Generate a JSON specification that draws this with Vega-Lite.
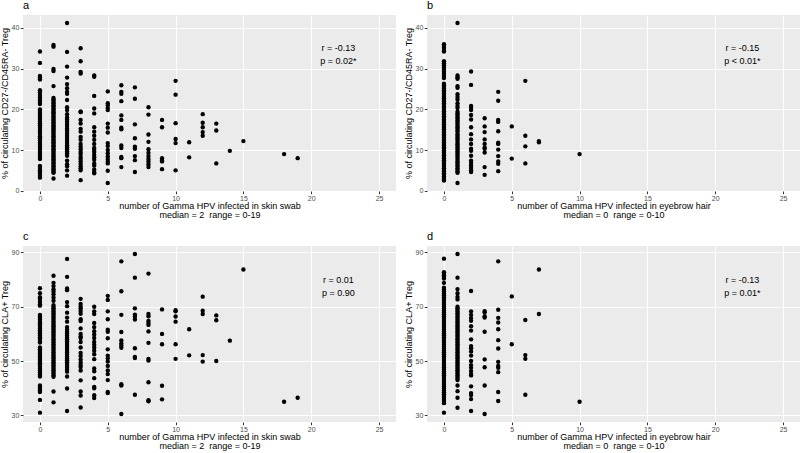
{
"$schema":"https://vega.github.io/schema/vega-lite/v6.json",
"padding":0,
"config":{"font":"Liberation Sans","view":{"fill":"#EBEBEB","stroke":null},
"axis":{"domain":false,"tickColor":"#333333","tickSize":2.7,"tickWidth":1,"labelColor":"#4D4D4D","labelFontSize":7,"labelPadding":1.5,"labelOverlap":false,"labelBound":false,"titleFontSize":9,"titleFontWeight":"normal","titleColor":"#000000","titlePadding":2,"titleLineHeight":10,"gridColor":"#FFFFFF"},
"axisX":{"labelPadding":0.5,"titlePadding":0,"titleLineHeight":9.5},
"title":{"anchor":"start","frame":"group","fontSize":11,"fontWeight":"normal","offset":4,"color":"#000000"}},
"datasets":{
"a":[
{"n":0,"v":34.2},{"n":0,"v":31.4},{"n":0,"v":28.2},{"n":0,"v":27.8},{"n":0,"v":27.3},{"n":0,"v":24.7},{"n":0,"v":24.1},{"n":0,"v":23.5},{"n":0,"v":22.9},{"n":0,"v":22.3},{"n":0,"v":21.8},{"n":0,"v":21.3},{"n":0,"v":20.0},{"n":0,"v":19.6},{"n":0,"v":19.1},{"n":0,"v":18.6},{"n":0,"v":18.1},{"n":0,"v":17.6},{"n":0,"v":17.1},{"n":0,"v":16.6},{"n":0,"v":16.1},{"n":0,"v":15.5},{"n":0,"v":15.0},{"n":0,"v":14.5},{"n":0,"v":14.0},{"n":0,"v":13.4},{"n":0,"v":12.9},{"n":0,"v":12.3},{"n":0,"v":11.8},{"n":0,"v":11.3},{"n":0,"v":10.8},{"n":0,"v":10.3},{"n":0,"v":9.8},{"n":0,"v":9.3},{"n":0,"v":8.8},{"n":0,"v":8.3},{"n":0,"v":7.8},{"n":0,"v":6.1},{"n":0,"v":5.6},{"n":0,"v":5.0},{"n":0,"v":4.6},{"n":0,"v":4.1},{"n":0,"v":3.6},{"n":0,"v":3.2},
{"n":1,"v":35.8},{"n":1,"v":35.4},{"n":1,"v":29.9},{"n":1,"v":29.4},{"n":1,"v":25.7},{"n":1,"v":22.8},{"n":1,"v":22.4},{"n":1,"v":22.1},{"n":1,"v":21.7},{"n":1,"v":21.4},{"n":1,"v":21.0},{"n":1,"v":20.7},{"n":1,"v":20.3},{"n":1,"v":20.0},{"n":1,"v":19.6},{"n":1,"v":19.3},{"n":1,"v":18.9},{"n":1,"v":18.6},{"n":1,"v":18.2},{"n":1,"v":17.9},{"n":1,"v":17.5},{"n":1,"v":17.2},{"n":1,"v":16.8},{"n":1,"v":16.5},{"n":1,"v":16.1},{"n":1,"v":15.8},{"n":1,"v":15.4},{"n":1,"v":15.1},{"n":1,"v":14.7},{"n":1,"v":14.4},{"n":1,"v":14.0},{"n":1,"v":13.7},{"n":1,"v":13.3},{"n":1,"v":13.0},{"n":1,"v":12.6},{"n":1,"v":12.3},{"n":1,"v":11.9},{"n":1,"v":11.6},{"n":1,"v":11.2},{"n":1,"v":10.9},{"n":1,"v":10.5},{"n":1,"v":10.2},{"n":1,"v":9.8},{"n":1,"v":9.5},{"n":1,"v":9.1},{"n":1,"v":8.8},{"n":1,"v":8.4},{"n":1,"v":8.1},{"n":1,"v":7.7},{"n":1,"v":7.4},{"n":1,"v":7.0},{"n":1,"v":6.7},{"n":1,"v":6.3},{"n":1,"v":6.0},{"n":1,"v":5.6},{"n":1,"v":5.3},{"n":1,"v":4.9},{"n":1,"v":4.6},{"n":1,"v":4.4},{"n":1,"v":3.0},
{"n":2,"v":41.2},{"n":2,"v":34.1},{"n":2,"v":30.5},{"n":2,"v":27.8},{"n":2,"v":26.2},{"n":2,"v":25.2},{"n":2,"v":24.3},{"n":2,"v":23.8},{"n":2,"v":22.3},{"n":2,"v":20.5},{"n":2,"v":19.8},{"n":2,"v":18.8},{"n":2,"v":18.0},{"n":2,"v":17.5},{"n":2,"v":17.0},{"n":2,"v":16.4},{"n":2,"v":15.9},{"n":2,"v":15.3},{"n":2,"v":14.8},{"n":2,"v":14.2},{"n":2,"v":13.7},{"n":2,"v":13.2},{"n":2,"v":12.7},{"n":2,"v":12.2},{"n":2,"v":11.7},{"n":2,"v":11.2},{"n":2,"v":10.7},{"n":2,"v":10.2},{"n":2,"v":9.7},{"n":2,"v":9.2},{"n":2,"v":8.6},{"n":2,"v":7.4},{"n":2,"v":6.5},{"n":2,"v":6.0},{"n":2,"v":5.0},{"n":2,"v":3.7},
{"n":3,"v":35.0},{"n":3,"v":31.8},{"n":3,"v":29.2},{"n":3,"v":28.8},{"n":3,"v":19.5},{"n":3,"v":19.3},{"n":3,"v":17.4},{"n":3,"v":16.5},{"n":3,"v":15.2},{"n":3,"v":14.5},{"n":3,"v":13.2},{"n":3,"v":12.5},{"n":3,"v":11.5},{"n":3,"v":10.8},{"n":3,"v":10.2},{"n":3,"v":9.5},{"n":3,"v":9.0},{"n":3,"v":8.3},{"n":3,"v":7.8},{"n":3,"v":7.2},{"n":3,"v":6.6},{"n":3,"v":6.0},{"n":3,"v":5.5},{"n":3,"v":5.0},{"n":3,"v":2.6},
{"n":4,"v":28.3},{"n":4,"v":28.0},{"n":4,"v":23.3},{"n":4,"v":20.2},{"n":4,"v":19.0},{"n":4,"v":15.6},{"n":4,"v":14.5},{"n":4,"v":13.5},{"n":4,"v":12.5},{"n":4,"v":11.5},{"n":4,"v":10.5},{"n":4,"v":10.0},{"n":4,"v":9.5},{"n":4,"v":8.8},{"n":4,"v":8.2},{"n":4,"v":7.6},{"n":4,"v":6.7},{"n":4,"v":6.2},{"n":4,"v":5.2},{"n":4,"v":4.6},{"n":4,"v":4.3},
{"n":5,"v":24.4},{"n":5,"v":21.5},{"n":5,"v":21.0},{"n":5,"v":20.3},{"n":5,"v":19.8},{"n":5,"v":16.5},{"n":5,"v":15.5},{"n":5,"v":14.3},{"n":5,"v":11.7},{"n":5,"v":11.0},{"n":5,"v":10.0},{"n":5,"v":9.2},{"n":5,"v":8.4},{"n":5,"v":7.8},{"n":5,"v":7.2},{"n":5,"v":6.7},{"n":5,"v":4.9},{"n":5,"v":1.9},
{"n":6,"v":25.9},{"n":6,"v":24.3},{"n":6,"v":23.8},{"n":6,"v":22.0},{"n":6,"v":18.5},{"n":6,"v":17.4},{"n":6,"v":15.5},{"n":6,"v":15.1},{"n":6,"v":11.1},{"n":6,"v":10.5},{"n":6,"v":8.3},{"n":6,"v":8.0},{"n":6,"v":5.8},
{"n":7,"v":25.4},{"n":7,"v":22.6},{"n":7,"v":16.3},{"n":7,"v":12.9},{"n":7,"v":10.8},{"n":7,"v":10.3},{"n":7,"v":8.5},{"n":7,"v":7.5},{"n":7,"v":4.6},
{"n":8,"v":20.5},{"n":8,"v":18.7},{"n":8,"v":13.8},{"n":8,"v":12.0},{"n":8,"v":10.2},{"n":8,"v":9.3},{"n":8,"v":8.5},{"n":8,"v":7.8},{"n":8,"v":7.2},{"n":8,"v":6.5},{"n":8,"v":5.8},
{"n":9,"v":17.4},{"n":9,"v":15.6},{"n":9,"v":8.0},{"n":9,"v":7.4},{"n":9,"v":7.2},{"n":9,"v":5.3},
{"n":10,"v":27.0},{"n":10,"v":23.6},{"n":10,"v":16.6},{"n":10,"v":12.7},{"n":10,"v":11.7},{"n":10,"v":5.0},
{"n":11,"v":11.9},{"n":11,"v":8.2},
{"n":12,"v":18.8},{"n":12,"v":16.7},{"n":12,"v":15.6},{"n":12,"v":14.4},{"n":12,"v":13.5},
{"n":13,"v":16.5},{"n":13,"v":14.8},{"n":13,"v":6.7},
{"n":14,"v":9.8},{"n":15,"v":12.2},{"n":18,"v":9.0},{"n":19,"v":8.0}],
"b":[
{"n":0,"v":36.0},{"n":0,"v":35.6},{"n":0,"v":35.1},{"n":0,"v":34.6},{"n":0,"v":34.2},{"n":0,"v":31.8},{"n":0,"v":31.3},{"n":0,"v":30.8},{"n":0,"v":30.2},{"n":0,"v":29.7},{"n":0,"v":29.2},{"n":0,"v":28.7},{"n":0,"v":28.2},{"n":0,"v":27.7},{"n":0,"v":26.3},{"n":0,"v":25.9},{"n":0,"v":25.5},{"n":0,"v":25.1},{"n":0,"v":24.7},{"n":0,"v":24.3},{"n":0,"v":23.9},{"n":0,"v":23.5},{"n":0,"v":23.1},{"n":0,"v":22.7},{"n":0,"v":22.3},{"n":0,"v":21.9},{"n":0,"v":21.5},{"n":0,"v":21.1},{"n":0,"v":20.7},{"n":0,"v":20.3},{"n":0,"v":19.9},{"n":0,"v":19.5},{"n":0,"v":19.1},{"n":0,"v":18.7},{"n":0,"v":18.3},{"n":0,"v":17.9},{"n":0,"v":17.5},{"n":0,"v":17.1},{"n":0,"v":16.7},{"n":0,"v":16.3},{"n":0,"v":15.9},{"n":0,"v":15.5},{"n":0,"v":15.1},{"n":0,"v":14.7},{"n":0,"v":14.3},{"n":0,"v":13.9},{"n":0,"v":13.5},{"n":0,"v":13.1},{"n":0,"v":12.7},{"n":0,"v":12.3},{"n":0,"v":11.9},{"n":0,"v":11.5},{"n":0,"v":11.1},{"n":0,"v":10.7},{"n":0,"v":10.3},{"n":0,"v":9.9},{"n":0,"v":9.5},{"n":0,"v":9.1},{"n":0,"v":8.7},{"n":0,"v":8.3},{"n":0,"v":7.9},{"n":0,"v":7.5},{"n":0,"v":7.1},{"n":0,"v":6.7},{"n":0,"v":6.3},{"n":0,"v":5.9},{"n":0,"v":5.5},{"n":0,"v":5.1},{"n":0,"v":4.7},{"n":0,"v":4.3},{"n":0,"v":3.9},{"n":0,"v":3.5},{"n":0,"v":3.1},{"n":0,"v":2.7},{"n":0,"v":2.5},
{"n":1,"v":41.2},{"n":1,"v":28.3},{"n":1,"v":27.9},{"n":1,"v":27.5},{"n":1,"v":25.7},{"n":1,"v":25.3},{"n":1,"v":23.7},{"n":1,"v":23.0},{"n":1,"v":22.4},{"n":1,"v":21.5},{"n":1,"v":20.8},{"n":1,"v":20.3},{"n":1,"v":19.4},{"n":1,"v":19.0},{"n":1,"v":18.6},{"n":1,"v":18.2},{"n":1,"v":17.8},{"n":1,"v":17.3},{"n":1,"v":16.9},{"n":1,"v":16.5},{"n":1,"v":16.0},{"n":1,"v":15.6},{"n":1,"v":15.2},{"n":1,"v":14.8},{"n":1,"v":14.4},{"n":1,"v":13.9},{"n":1,"v":13.5},{"n":1,"v":13.1},{"n":1,"v":12.7},{"n":1,"v":12.3},{"n":1,"v":11.8},{"n":1,"v":11.4},{"n":1,"v":11.0},{"n":1,"v":10.6},{"n":1,"v":10.2},{"n":1,"v":9.7},{"n":1,"v":9.3},{"n":1,"v":8.9},{"n":1,"v":8.5},{"n":1,"v":8.1},{"n":1,"v":7.6},{"n":1,"v":7.2},{"n":1,"v":6.8},{"n":1,"v":6.4},{"n":1,"v":6.0},{"n":1,"v":5.5},{"n":1,"v":5.1},{"n":1,"v":4.7},{"n":1,"v":4.4},{"n":1,"v":1.9},
{"n":2,"v":29.3},{"n":2,"v":26.0},{"n":2,"v":20.8},{"n":2,"v":20.4},{"n":2,"v":19.8},{"n":2,"v":18.6},{"n":2,"v":17.5},{"n":2,"v":15.6},{"n":2,"v":13.9},{"n":2,"v":12.6},{"n":2,"v":11.5},{"n":2,"v":10.3},{"n":2,"v":9.8},{"n":2,"v":8.6},{"n":2,"v":7.4},{"n":2,"v":6.8},{"n":2,"v":6.2},{"n":2,"v":5.6},{"n":2,"v":5.0},{"n":2,"v":4.6},
{"n":3,"v":17.8},{"n":3,"v":15.8},{"n":3,"v":14.4},{"n":3,"v":12.6},{"n":3,"v":11.5},{"n":3,"v":10.6},{"n":3,"v":10.3},{"n":3,"v":9.4},{"n":3,"v":5.8},{"n":3,"v":3.9},
{"n":4,"v":24.3},{"n":4,"v":22.1},{"n":4,"v":17.4},{"n":4,"v":16.9},{"n":4,"v":14.6},{"n":4,"v":11.8},{"n":4,"v":11.5},{"n":4,"v":10.1},{"n":4,"v":8.5},{"n":4,"v":7.2},{"n":4,"v":6.6},{"n":4,"v":4.8},
{"n":5,"v":15.8},{"n":5,"v":7.9},
{"n":6,"v":27.0},{"n":6,"v":13.5},{"n":6,"v":10.9},{"n":6,"v":6.7},
{"n":7,"v":12.2},{"n":7,"v":11.9},
{"n":10,"v":9.0}],
"c":[
{"n":0,"v":76.8},{"n":0,"v":75.0},{"n":0,"v":73.5},{"n":0,"v":72.8},{"n":0,"v":71.8},{"n":0,"v":70.9},{"n":0,"v":70.4},{"n":0,"v":67.0},{"n":0,"v":66.4},{"n":0,"v":65.8},{"n":0,"v":65.2},{"n":0,"v":64.5},{"n":0,"v":63.9},{"n":0,"v":63.3},{"n":0,"v":62.6},{"n":0,"v":62.0},{"n":0,"v":61.3},{"n":0,"v":60.7},{"n":0,"v":60.1},{"n":0,"v":59.4},{"n":0,"v":58.8},{"n":0,"v":58.2},{"n":0,"v":57.5},{"n":0,"v":56.8},{"n":0,"v":55.0},{"n":0,"v":54.3},{"n":0,"v":53.7},{"n":0,"v":53.0},{"n":0,"v":52.4},{"n":0,"v":51.7},{"n":0,"v":51.1},{"n":0,"v":50.5},{"n":0,"v":49.8},{"n":0,"v":49.2},{"n":0,"v":48.6},{"n":0,"v":47.9},{"n":0,"v":47.2},{"n":0,"v":46.5},{"n":0,"v":45.8},{"n":0,"v":45.0},{"n":0,"v":44.3},{"n":0,"v":41.0},{"n":0,"v":40.4},{"n":0,"v":39.8},{"n":0,"v":39.2},{"n":0,"v":38.6},{"n":0,"v":35.7},{"n":0,"v":31.0},
{"n":1,"v":81.4},{"n":1,"v":78.8},{"n":1,"v":77.6},{"n":1,"v":76.4},{"n":1,"v":75.6},{"n":1,"v":74.6},{"n":1,"v":73.4},{"n":1,"v":72.2},{"n":1,"v":70.6},{"n":1,"v":70.0},{"n":1,"v":69.4},{"n":1,"v":68.8},{"n":1,"v":68.2},{"n":1,"v":67.6},{"n":1,"v":67.0},{"n":1,"v":66.4},{"n":1,"v":65.8},{"n":1,"v":65.2},{"n":1,"v":64.6},{"n":1,"v":64.0},{"n":1,"v":63.4},{"n":1,"v":62.8},{"n":1,"v":62.2},{"n":1,"v":61.6},{"n":1,"v":61.0},{"n":1,"v":60.4},{"n":1,"v":59.8},{"n":1,"v":59.2},{"n":1,"v":58.6},{"n":1,"v":58.0},{"n":1,"v":57.4},{"n":1,"v":56.8},{"n":1,"v":56.2},{"n":1,"v":55.6},{"n":1,"v":55.0},{"n":1,"v":54.4},{"n":1,"v":53.8},{"n":1,"v":53.2},{"n":1,"v":52.6},{"n":1,"v":52.0},{"n":1,"v":51.4},{"n":1,"v":50.8},{"n":1,"v":50.2},{"n":1,"v":49.6},{"n":1,"v":49.0},{"n":1,"v":48.4},{"n":1,"v":47.8},{"n":1,"v":47.2},{"n":1,"v":46.6},{"n":1,"v":46.0},{"n":1,"v":45.4},{"n":1,"v":44.8},{"n":1,"v":44.2},{"n":1,"v":38.8},{"n":1,"v":34.8},
{"n":2,"v":87.6},{"n":2,"v":81.0},{"n":2,"v":76.7},{"n":2,"v":76.1},{"n":2,"v":71.7},{"n":2,"v":70.2},{"n":2,"v":67.8},{"n":2,"v":66.0},{"n":2,"v":64.5},{"n":2,"v":62.5},{"n":2,"v":61.5},{"n":2,"v":60.8},{"n":2,"v":60.1},{"n":2,"v":59.4},{"n":2,"v":58.7},{"n":2,"v":58.0},{"n":2,"v":57.3},{"n":2,"v":56.6},{"n":2,"v":55.9},{"n":2,"v":55.2},{"n":2,"v":54.5},{"n":2,"v":53.8},{"n":2,"v":53.1},{"n":2,"v":52.4},{"n":2,"v":51.7},{"n":2,"v":51.0},{"n":2,"v":50.3},{"n":2,"v":49.6},{"n":2,"v":48.9},{"n":2,"v":48.2},{"n":2,"v":47.5},{"n":2,"v":46.8},{"n":2,"v":46.1},{"n":2,"v":44.3},{"n":2,"v":39.9},{"n":2,"v":31.6},
{"n":3,"v":72.9},{"n":3,"v":71.0},{"n":3,"v":70.0},{"n":3,"v":69.3},{"n":3,"v":68.4},{"n":3,"v":67.4},{"n":3,"v":65.4},{"n":3,"v":64.7},{"n":3,"v":62.0},{"n":3,"v":60.0},{"n":3,"v":59.0},{"n":3,"v":58.5},{"n":3,"v":57.0},{"n":3,"v":55.0},{"n":3,"v":53.0},{"n":3,"v":51.9},{"n":3,"v":50.6},{"n":3,"v":49.5},{"n":3,"v":48.5},{"n":3,"v":47.8},{"n":3,"v":46.5},{"n":3,"v":42.9},{"n":3,"v":38.8},{"n":3,"v":37.3},{"n":3,"v":32.9},
{"n":4,"v":70.0},{"n":4,"v":68.3},{"n":4,"v":67.3},{"n":4,"v":64.0},{"n":4,"v":62.5},{"n":4,"v":61.0},{"n":4,"v":59.8},{"n":4,"v":58.5},{"n":4,"v":57.0},{"n":4,"v":56.0},{"n":4,"v":55.0},{"n":4,"v":53.8},{"n":4,"v":52.5},{"n":4,"v":50.7},{"n":4,"v":47.3},{"n":4,"v":46.2},{"n":4,"v":43.7},{"n":4,"v":40.5},{"n":4,"v":40.0},{"n":4,"v":37.4},{"n":4,"v":36.4},
{"n":5,"v":74.0},{"n":5,"v":72.5},{"n":5,"v":68.3},{"n":5,"v":65.4},{"n":5,"v":61.5},{"n":5,"v":60.8},{"n":5,"v":58.4},{"n":5,"v":54.3},{"n":5,"v":52.0},{"n":5,"v":51.0},{"n":5,"v":49.8},{"n":5,"v":48.2},{"n":5,"v":46.5},{"n":5,"v":45.2},{"n":5,"v":43.0},{"n":5,"v":38.6},{"n":5,"v":38.2},
{"n":6,"v":86.7},{"n":6,"v":75.7},{"n":6,"v":67.0},{"n":6,"v":60.7},{"n":6,"v":57.6},{"n":6,"v":56.5},{"n":6,"v":55.7},{"n":6,"v":54.9},{"n":6,"v":41.5},{"n":6,"v":41.0},{"n":6,"v":30.5},
{"n":7,"v":89.4},{"n":7,"v":80.7},{"n":7,"v":69.4},{"n":7,"v":67.1},{"n":7,"v":66.3},{"n":7,"v":65.3},{"n":7,"v":54.7},{"n":7,"v":51.5},{"n":7,"v":51.1},{"n":7,"v":37.6},
{"n":8,"v":82.2},{"n":8,"v":67.3},{"n":8,"v":66.5},{"n":8,"v":64.8},{"n":8,"v":64.0},{"n":8,"v":63.3},{"n":8,"v":60.9},{"n":8,"v":56.7},{"n":8,"v":50.8},{"n":8,"v":50.2},{"n":8,"v":42.2},{"n":8,"v":35.6},{"n":8,"v":35.2},
{"n":9,"v":69.0},{"n":9,"v":60.0},{"n":9,"v":56.2},{"n":9,"v":40.9},{"n":9,"v":35.9},
{"n":10,"v":68.7},{"n":10,"v":68.3},{"n":10,"v":66.4},{"n":10,"v":64.5},{"n":10,"v":56.2},{"n":10,"v":50.8},
{"n":11,"v":61.7},{"n":11,"v":52.1},
{"n":12,"v":73.7},{"n":12,"v":68.5},{"n":12,"v":67.3},{"n":12,"v":52.2},{"n":12,"v":49.8},
{"n":13,"v":66.8},{"n":13,"v":65.0},{"n":13,"v":50.0},
{"n":14,"v":57.5},{"n":15,"v":83.7},{"n":18,"v":35.0},{"n":19,"v":36.5}],
"d":[
{"n":0,"v":87.7},{"n":0,"v":82.7},{"n":0,"v":82.1},{"n":0,"v":81.6},{"n":0,"v":81.0},{"n":0,"v":80.4},{"n":0,"v":78.8},{"n":0,"v":77.0},{"n":0,"v":76.3},{"n":0,"v":75.6},{"n":0,"v":74.9},{"n":0,"v":74.2},{"n":0,"v":73.5},{"n":0,"v":72.8},{"n":0,"v":72.1},{"n":0,"v":71.4},{"n":0,"v":70.7},{"n":0,"v":70.0},{"n":0,"v":69.3},{"n":0,"v":68.6},{"n":0,"v":67.9},{"n":0,"v":67.2},{"n":0,"v":66.5},{"n":0,"v":65.8},{"n":0,"v":65.1},{"n":0,"v":64.4},{"n":0,"v":63.7},{"n":0,"v":63.0},{"n":0,"v":62.3},{"n":0,"v":61.6},{"n":0,"v":60.9},{"n":0,"v":60.2},{"n":0,"v":59.5},{"n":0,"v":58.8},{"n":0,"v":58.1},{"n":0,"v":57.4},{"n":0,"v":56.7},{"n":0,"v":56.0},{"n":0,"v":55.3},{"n":0,"v":54.6},{"n":0,"v":53.9},{"n":0,"v":53.2},{"n":0,"v":52.5},{"n":0,"v":51.8},{"n":0,"v":51.1},{"n":0,"v":50.4},{"n":0,"v":49.7},{"n":0,"v":49.0},{"n":0,"v":48.3},{"n":0,"v":47.6},{"n":0,"v":46.9},{"n":0,"v":46.2},{"n":0,"v":45.5},{"n":0,"v":44.8},{"n":0,"v":44.1},{"n":0,"v":43.4},{"n":0,"v":42.7},{"n":0,"v":42.0},{"n":0,"v":41.3},{"n":0,"v":40.6},{"n":0,"v":39.9},{"n":0,"v":39.2},{"n":0,"v":38.5},{"n":0,"v":37.8},{"n":0,"v":37.1},{"n":0,"v":36.4},{"n":0,"v":35.7},{"n":0,"v":35.0},{"n":0,"v":34.5},{"n":0,"v":31.0},
{"n":1,"v":89.4},{"n":1,"v":80.7},{"n":1,"v":76.5},{"n":1,"v":75.0},{"n":1,"v":73.6},{"n":1,"v":72.7},{"n":1,"v":70.0},{"n":1,"v":69.4},{"n":1,"v":68.8},{"n":1,"v":68.2},{"n":1,"v":67.6},{"n":1,"v":67.0},{"n":1,"v":66.4},{"n":1,"v":65.8},{"n":1,"v":65.2},{"n":1,"v":64.6},{"n":1,"v":64.0},{"n":1,"v":63.4},{"n":1,"v":62.8},{"n":1,"v":62.2},{"n":1,"v":61.6},{"n":1,"v":61.0},{"n":1,"v":60.4},{"n":1,"v":59.8},{"n":1,"v":59.2},{"n":1,"v":58.6},{"n":1,"v":58.0},{"n":1,"v":57.4},{"n":1,"v":56.8},{"n":1,"v":56.2},{"n":1,"v":55.6},{"n":1,"v":55.0},{"n":1,"v":54.4},{"n":1,"v":53.8},{"n":1,"v":53.2},{"n":1,"v":52.6},{"n":1,"v":52.0},{"n":1,"v":51.4},{"n":1,"v":50.8},{"n":1,"v":50.2},{"n":1,"v":49.6},{"n":1,"v":49.0},{"n":1,"v":48.4},{"n":1,"v":47.8},{"n":1,"v":47.2},{"n":1,"v":46.6},{"n":1,"v":46.0},{"n":1,"v":45.4},{"n":1,"v":44.8},{"n":1,"v":44.2},{"n":1,"v":43.6},{"n":1,"v":43.0},{"n":1,"v":41.0},{"n":1,"v":38.9},{"n":1,"v":36.5},{"n":1,"v":32.8},
{"n":2,"v":75.8},{"n":2,"v":68.3},{"n":2,"v":67.0},{"n":2,"v":65.8},{"n":2,"v":64.8},{"n":2,"v":62.8},{"n":2,"v":61.2},{"n":2,"v":58.0},{"n":2,"v":55.5},{"n":2,"v":54.7},{"n":2,"v":53.5},{"n":2,"v":52.0},{"n":2,"v":50.0},{"n":2,"v":48.5},{"n":2,"v":47.5},{"n":2,"v":46.3},{"n":2,"v":45.2},{"n":2,"v":44.7},{"n":2,"v":40.7},{"n":2,"v":38.2},{"n":2,"v":37.5},{"n":2,"v":36.0},{"n":2,"v":31.6},
{"n":3,"v":68.4},{"n":3,"v":68.0},{"n":3,"v":66.5},{"n":3,"v":66.0},{"n":3,"v":60.8},{"n":3,"v":50.6},{"n":3,"v":47.7},{"n":3,"v":41.0},{"n":3,"v":30.5},
{"n":4,"v":86.7},{"n":4,"v":68.9},{"n":4,"v":65.9},{"n":4,"v":64.2},{"n":4,"v":61.7},{"n":4,"v":57.7},{"n":4,"v":54.6},{"n":4,"v":49.7},{"n":4,"v":48.2},{"n":4,"v":47.5},{"n":4,"v":45.9},{"n":4,"v":38.6},{"n":4,"v":35.3},
{"n":5,"v":73.8},{"n":5,"v":56.2},
{"n":6,"v":65.1},{"n":6,"v":52.2},{"n":6,"v":50.8},{"n":6,"v":37.6},
{"n":7,"v":83.7},{"n":7,"v":67.3},
{"n":10,"v":35.0}]
},
"columns":2,
"spacing":{"row":55,"column":31},
"bounds":"flush",
"concat":[
{"width":373,"height":176,"title":"a","layer":[
{"data":{"name":"a"},"mark":{"type":"point","filled":true,"size":19,"color":"#000000","opacity":1},
"encoding":{"x":{"field":"n","type":"quantitative","scale":{"domain":[-1.25,26.25],"nice":false,"zero":false},"axis":{"values":[0,2.5,5,7.5,10,12.5,15,17.5,20,22.5,25],"labelOverlap":false,"labelExpr":"datum.value % 5 === 0 ? datum.label : ''","gridWidth":{"condition":{"test":"datum.value % 5 === 0","value":1.1},"value":0.55},"tickOpacity":{"condition":{"test":"datum.value % 5 === 0","value":1},"value":0},"title":["number of Gamma HPV infected in skin swab","median = 2\u00a0 range = 0-19"]}},
"y":{"field":"v","type":"quantitative","scale":{"domain":[-0.07,43.17],"nice":false,"zero":false},"axis":{"values":[0,5,10,15,20,25,30,35,40],"labelOverlap":false,"labelExpr":"datum.value % 10 === 0 ? datum.label : ''","gridWidth":{"condition":{"test":"datum.value % 10 === 0","value":1.1},"value":0.55},"tickOpacity":{"condition":{"test":"datum.value % 10 === 0","value":1},"value":0},"title":"% of circulating CD27-/CD45RA- Treg"}}}},
{"data":{"values":[{"n":22,"v":35,"t":"r = -0.13\np = 0.02*"}]},"mark":{"type":"text","fontSize":9,"lineBreak":"\n","lineHeight":13,"align":"center","baseline":"middle","color":"#000000"},
"encoding":{"x":{"field":"n","type":"quantitative"},"y":{"field":"v","type":"quantitative"},"text":{"field":"t","type":"nominal"}}}]},
{"width":373,"height":176,"title":"b","layer":[
{"data":{"name":"b"},"mark":{"type":"point","filled":true,"size":19,"color":"#000000","opacity":1},
"encoding":{"x":{"field":"n","type":"quantitative","scale":{"domain":[-1.25,26.25],"nice":false,"zero":false},"axis":{"values":[0,2.5,5,7.5,10,12.5,15,17.5,20,22.5,25],"labelOverlap":false,"labelExpr":"datum.value % 5 === 0 ? datum.label : ''","gridWidth":{"condition":{"test":"datum.value % 5 === 0","value":1.1},"value":0.55},"tickOpacity":{"condition":{"test":"datum.value % 5 === 0","value":1},"value":0},"title":["number of Gamma HPV infected in eyebrow hair","median = 0\u00a0 range = 0-10"]}},
"y":{"field":"v","type":"quantitative","scale":{"domain":[-0.07,43.17],"nice":false,"zero":false},"axis":{"values":[0,5,10,15,20,25,30,35,40],"labelOverlap":false,"labelExpr":"datum.value % 10 === 0 ? datum.label : ''","gridWidth":{"condition":{"test":"datum.value % 10 === 0","value":1.1},"value":0.55},"tickOpacity":{"condition":{"test":"datum.value % 10 === 0","value":1},"value":0},"title":"% of circulating CD27-/CD45RA- Treg"}}}},
{"data":{"values":[{"n":22,"v":35,"t":"r = -0.15\np < 0.01*"}]},"mark":{"type":"text","fontSize":9,"lineBreak":"\n","lineHeight":13,"align":"center","baseline":"middle","color":"#000000"},
"encoding":{"x":{"field":"n","type":"quantitative"},"y":{"field":"v","type":"quantitative"},"text":{"field":"t","type":"nominal"}}}]},
{"width":373,"height":176,"title":"c","layer":[
{"data":{"name":"c"},"mark":{"type":"point","filled":true,"size":19,"color":"#000000","opacity":1},
"encoding":{"x":{"field":"n","type":"quantitative","scale":{"domain":[-1.25,26.25],"nice":false,"zero":false},"axis":{"values":[0,2.5,5,7.5,10,12.5,15,17.5,20,22.5,25],"labelOverlap":false,"labelExpr":"datum.value % 5 === 0 ? datum.label : ''","gridWidth":{"condition":{"test":"datum.value % 5 === 0","value":1.1},"value":0.55},"tickOpacity":{"condition":{"test":"datum.value % 5 === 0","value":1},"value":0},"title":["number of Gamma HPV infected in skin swab","median = 2\u00a0 range = 0-19"]}},
"y":{"field":"v","type":"quantitative","scale":{"domain":[27.56,92.35],"nice":false,"zero":false},"axis":{"values":[30,35,40,45,50,55,60,65,70,75,80,85,90],"labelOverlap":false,"labelExpr":"datum.value % 10 === 0 ? datum.label : ''","gridWidth":{"condition":{"test":"datum.value % 10 === 0","value":1.1},"value":0.55},"tickOpacity":{"condition":{"test":"datum.value % 10 === 0","value":1},"value":0},"title":"% of circulating CLA+ Treg"}}}},
{"data":{"values":[{"n":22,"v":80,"t":"r = 0.01\np = 0.90"}]},"mark":{"type":"text","fontSize":9,"lineBreak":"\n","lineHeight":13,"align":"center","baseline":"middle","color":"#000000"},
"encoding":{"x":{"field":"n","type":"quantitative"},"y":{"field":"v","type":"quantitative"},"text":{"field":"t","type":"nominal"}}}]},
{"width":373,"height":176,"title":"d","layer":[
{"data":{"name":"d"},"mark":{"type":"point","filled":true,"size":19,"color":"#000000","opacity":1},
"encoding":{"x":{"field":"n","type":"quantitative","scale":{"domain":[-1.25,26.25],"nice":false,"zero":false},"axis":{"values":[0,2.5,5,7.5,10,12.5,15,17.5,20,22.5,25],"labelOverlap":false,"labelExpr":"datum.value % 5 === 0 ? datum.label : ''","gridWidth":{"condition":{"test":"datum.value % 5 === 0","value":1.1},"value":0.55},"tickOpacity":{"condition":{"test":"datum.value % 5 === 0","value":1},"value":0},"title":["number of Gamma HPV infected in eyebrow hair","median = 0\u00a0 range = 0-10"]}},
"y":{"field":"v","type":"quantitative","scale":{"domain":[27.56,92.35],"nice":false,"zero":false},"axis":{"values":[30,35,40,45,50,55,60,65,70,75,80,85,90],"labelOverlap":false,"labelExpr":"datum.value % 10 === 0 ? datum.label : ''","gridWidth":{"condition":{"test":"datum.value % 10 === 0","value":1.1},"value":0.55},"tickOpacity":{"condition":{"test":"datum.value % 10 === 0","value":1},"value":0},"title":"% of circulating CLA+ Treg"}}}},
{"data":{"values":[{"n":22,"v":80,"t":"r = -0.13\np = 0.01*"}]},"mark":{"type":"text","fontSize":9,"lineBreak":"\n","lineHeight":13,"align":"center","baseline":"middle","color":"#000000"},
"encoding":{"x":{"field":"n","type":"quantitative"},"y":{"field":"v","type":"quantitative"},"text":{"field":"t","type":"nominal"}}}]}
]
}
